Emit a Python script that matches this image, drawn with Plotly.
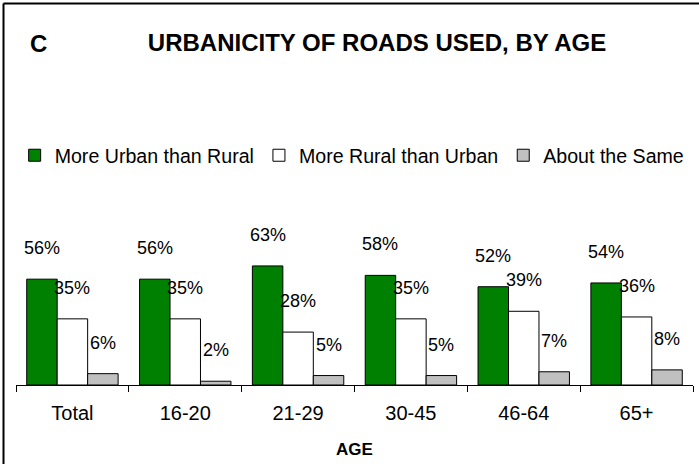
import plotly.graph_objects as go

categories = ["Total", "16-20", "21-29", "30-45", "46-64", "65+"]
urban = [56, 56, 63, 58, 52, 54]
rural = [35, 35, 28, 35, 39, 36]
same = [6, 2, 5, 5, 7, 8]
series_names = ["More Urban than Rural", "More Rural than Urban", "About the Same"]
colors = ["#008000", "#FFFFFF", "#C0C0C0"]

W, H = 699, 464
ML, MR, MT, MB = 16, 6, 196, 79
PW, PH = W - ML - MR, H - MT - MB
YMAX = 100
BARGAP = 0.19

FONT = "Liberation Sans, Arial, sans-serif"

fig = go.Figure()
for name, vals, col in zip(series_names, [urban, rural, same], colors):
    fig.add_trace(go.Bar(
        x=categories, y=vals, name=name,
        marker=dict(color=col, line=dict(color="#000000", width=1)),
    ))

bw = PW / len(categories) * (1 - BARGAP) / 3
annotations = []
for i, vals in enumerate([urban, rural, same]):
    for c, v in zip(categories, vals):
        annotations.append(dict(
            x=c, y=v, xref="x", yref="y", text=f"{v}%", showarrow=False,
            xshift=(i - 1) * bw, yshift=31, yanchor="middle", xanchor="center",
            font=dict(family=FONT, size=18, color="#000000"),
        ))

annotations.append(dict(
    x=(38.5 - ML) / PW, y=(H - MB - 43) / PH, xref="paper", yref="paper",
    text="<b>C</b>", showarrow=False, xanchor="center", yanchor="middle",
    font=dict(family=FONT, size=24, color="#000000"),
))

fig.update_layout(
    width=W, height=H,
    margin=dict(l=ML, r=MR, t=MT, b=MB, pad=0, autoexpand=False),
    paper_bgcolor="#FFFFFF", plot_bgcolor="#FFFFFF",
    barmode="group", bargap=BARGAP, bargroupgap=0,
    title=dict(text="<b>URBANICITY OF ROADS USED, BY AGE</b>",
               x=377 / W, y=1 - 43 / H, xanchor="center", yanchor="middle",
               font=dict(family=FONT, size=24, color="#000000")),
    showlegend=True,
    legend=dict(orientation="h", x=-0.002, y=(H - MB - 155.5) / PH,
                xanchor="left", yanchor="middle",
                font=dict(family=FONT, size=19.6, color="#000000"),
                itemwidth=30, traceorder="normal", bgcolor="rgba(0,0,0,0)"),
    xaxis=dict(showline=True, linecolor="#000000", linewidth=1,
               ticks="outside", tickson="boundaries", ticklen=6, tickcolor="#000000",
               tickfont=dict(family=FONT, size=20, color="#000000"),
               ticklabelstandoff=10, automargin=False,
               showgrid=False, zeroline=False,
               title=dict(text="<b>AGE</b>", standoff=20,
                          font=dict(family=FONT, size=17, color="#000000"))),
    yaxis=dict(range=[0, YMAX], visible=False, showgrid=False, zeroline=False,
               automargin=False),
    annotations=annotations,
    shapes=[
        dict(type="line", xref="paper", yref="paper",
             x0=(3.5 - ML) / PW, x1=(W + 5 - ML) / PW,
             y0=(H - MB - 3.5) / PH, y1=(H - MB - 3.5) / PH,
             line=dict(color="#000000", width=2)),
        dict(type="line", xref="paper", yref="paper",
             x0=(3.5 - ML) / PW, x1=(3.5 - ML) / PW,
             y0=(H - MB - 3.5) / PH, y1=(H - MB - H - 5) / PH,
             line=dict(color="#000000", width=2)),
    ],
)

fig.write_html("out.html", config={"displayModeBar": False},
               post_script="document.body.style.margin='0';")
